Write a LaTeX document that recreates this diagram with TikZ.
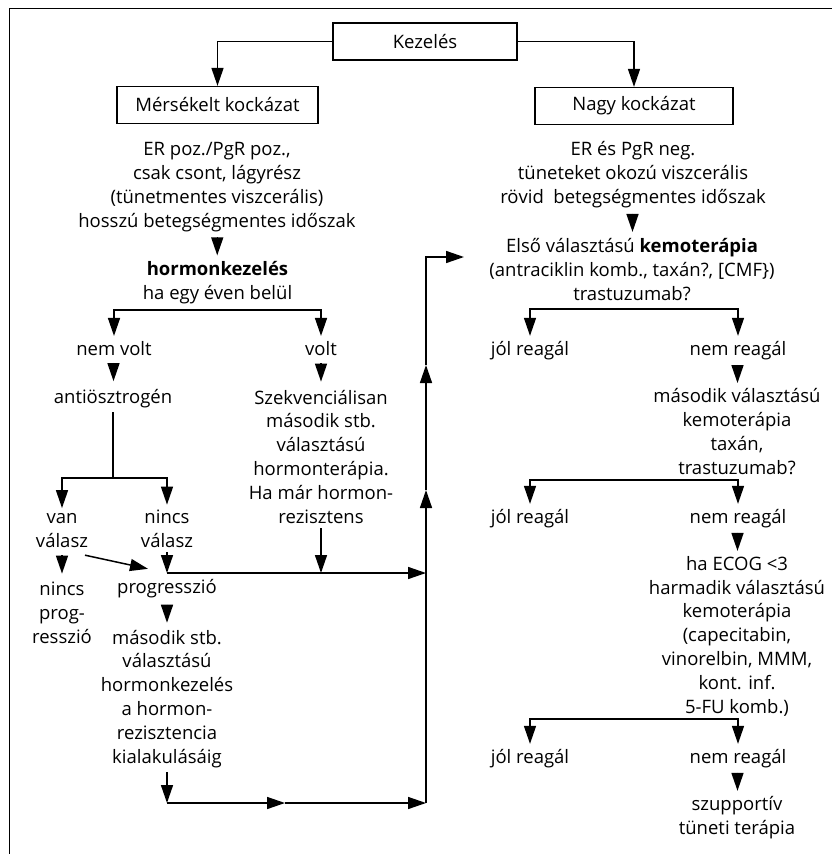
\documentclass[tikz,border=0pt]{standalone}
\usepackage{fontspec}
\setmainfont{Open Sans}
\usetikzlibrary{arrows.meta,calc}

% a lone downward triangle centred between two stacked text blocks
\newcommand\dropmark[2]{%
  \draw[arr] ($(#1.south)!0.5!(#2.north)+(0,9.1)$) -- ++(0,-18.2);}

\begin{document}
\begin{tikzpicture}[x=1pt,y=1pt,
  % text blocks are placed by the baseline of their last line
  txt/.style={inner sep=0pt, outer sep=5pt, align=center, anchor=base,
              font=\fontsize{18.5}{23.8}\selectfont},
  box/.style={draw, line width=1.3pt, inner sep=0pt, minimum height=37pt,
              font=\fontsize{18.5}{23.8}\selectfont},
  conn/.style={line width=1.5pt},
  arr/.style={conn, -{Triangle[length=18pt,width=12pt]}},
  arrs/.style={conn, {Triangle[length=18pt,width=12pt]}-{Triangle[length=18pt,width=12pt]}},
]
\useasboundingbox (0,0) rectangle (832,-854);

% outer frame (left and top edges)
\draw[line width=1pt] (9,-854) -- (9,-8) -- (832,-8);

% boxed headings
\node[box, minimum width=184pt] (kez)  at (425,-41.5) {Kezelés};
\node[box, minimum width=201pt] (mer)  at (217.5,-105) {Mérsékelt kockázat};
\node[box, minimum width=198pt] (nagy) at (634,-106)  {Nagy kockázat};

% left branch: moderate risk
\node[txt] (l1)   at (217,-227) {ER poz./PgR poz.,\\csak csont, lágyrész\\(tünetmentes viszcerális)\\hosszú betegségmentes időszak};
\node[txt] (l2)   at (217.5,-299) {\textbf{hormonkezelés}\\ha egy éven belül};
\node[txt] (nv)   at (114,-355) {nem volt};
\node[txt] (vo)   at (321,-355) {volt};
\node[txt] (anti) at (113,-403) {antiösztrogén};
\node[txt] (szek) at (321,-523) {Szekvenciálisan\\második stb.\\választású\\hormonterápia.\\Ha már hormon-\\rezisztens};
\node[txt] (van)  at (62,-547)  {van\\válasz};
\node[txt] (ncs)  at (167,-547) {nincs\\válasz};
\node[txt] (np)   at (62,-643)  {nincs\\prog-\\resszió};
\node[txt] (prog) at (167,-593) {progresszió};
\node[txt] (mas)  at (167,-763) {második stb.\\választású\\hormonkezelés\\a hormon-\\rezisztencia\\kialakulásáig};

% right branch: high risk
\node[txt] (r1) at (633,-203) {ER és PgR neg.\\tüneteket okozú viszcerális\\rövid~~betegségmentes időszak};
\node[txt] (r2) at (632,-300) {Első választású \textbf{kemoterápia}\\(antraciklin komb., taxán?, [CMF\})\\trastuzumab?};
\node[txt] (j1) at (530,-355) {jól reagál};
\node[txt] (n1) at (738,-355) {nem reagál};
\node[txt] (r3) at (737,-474) {második választású\\kemoterápia\\taxán,\\trastuzumab?};
\node[txt] (j2) at (530,-523) {jól reagál};
\node[txt] (n2) at (738,-523) {nem reagál};
\node[txt] (r4) at (737,-713) {ha ECOG <3\\harmadik választású\\kemoterápia\\(capecitabin,\\vinorelbin, MMM,\\kont. inf.\\5-FU komb.)};
\node[txt] (j3) at (530,-763) {jól reagál};
\node[txt] (n3) at (738,-763) {nem reagál};
\node[txt] (r5) at (737,-834) {szupportív\\tüneti terápia};

% routing points
\coordinate (b1) at (217,-310);
\coordinate (b2) at (113,-478);
\coordinate (b4) at (634,-309);
\coordinate (b5) at (634,-480);
\coordinate (b6) at (634,-719);
\coordinate (h1) at (167,-573);
\coordinate (h2) at (167,-803);
\coordinate (m2) at (285,-803);
\coordinate (vb) at (426,-803);
\coordinate (u1) at (426,-490);
\coordinate (u2) at (426,-365);
\coordinate (vt) at (426,-257);
\coordinate (e1) at (464,-257);

% connectors: top level
\draw[arr] (kez.west) -| (mer.north);
\draw[arr] (kez.east) -| (nagy.north);

% connectors: left branch
\dropmark{l1}{l2}
\draw[arrs] (nv.north) -- (nv.north |- b1) -- (vo.north |- b1) -- (vo.north);
\dropmark{nv}{anti}
\dropmark{vo}{szek}
\draw[conn] (anti.south) -- (b2);
\draw[arrs] (van.north) -- (van.north |- b2) -- (ncs.north |- b2) -- (ncs.north);
\dropmark{van}{np}
\draw[arr] ([xshift=-8pt,yshift=-3pt]van.south east) -- ([xshift=-19pt,yshift=5pt]prog.north);
\draw[arr] (ncs.south) -- (h1);
\draw[arr] (h1) -- (h1 -| vb);
\draw[arr] (szek.south) -- (szek.south |- h1);
\dropmark{prog}{mas}
\draw[arr] (mas.south) -- (h2);
\draw[arr] (h2) -- (m2);
\draw[arr] (m2) -- (vb);
\draw[arr] (vb) -- (u1);
\draw[arr] (u1) -- (u2);
\draw[arr] (u2) -- (vt) -- (e1);

% connectors: right branch
\dropmark{r1}{r2}
\draw[arrs] (j1.north) -- (j1.north |- b4) -- (n1.north |- b4) -- (n1.north);
\dropmark{n1}{r3}
\draw[arrs] (j2.north) -- (j2.north |- b5) -- (n2.north |- b5) -- (n2.north);
\dropmark{n2}{r4}
\draw[arrs] (j3.north) -- (j3.north |- b6) -- (n3.north |- b6) -- (n3.north);
\dropmark{n3}{r5}
\end{tikzpicture}
\end{document}
